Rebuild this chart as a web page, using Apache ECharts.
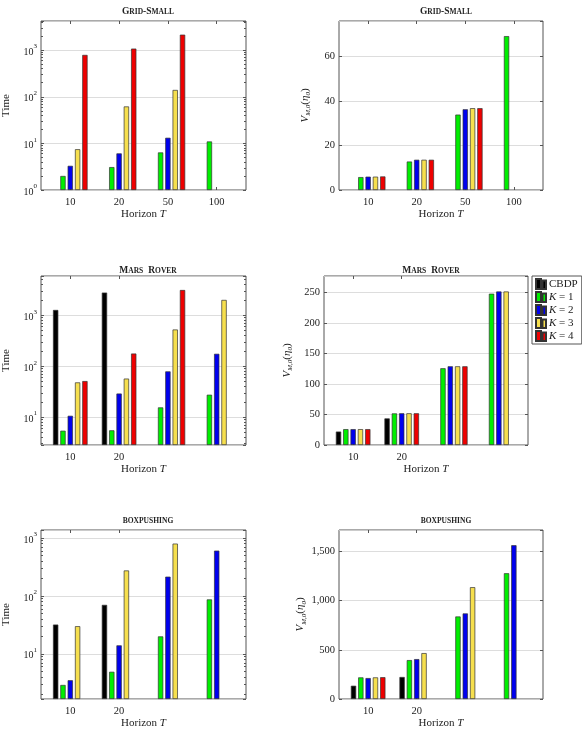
<!DOCTYPE html>
<html>
<head>
<meta charset="utf-8">
<script src="https://cdn.jsdelivr.net/npm/echarts@6/dist/echarts.min.js"></script>
<style>html,body{margin:0;padding:0;background:#fff}#c{width:582px;height:739px}</style>
</head>
<body>
<div id="c"></div>
<script>
// ---------------- data ----------------
const seriesNames = ['CBDP', 'K = 1', 'K = 2', 'K = 3', 'K = 4'];
const gridLabels = ['10', '20', '50', '100'];
const marsLabels = ['10', '20', '', ''];
const boxLabels = ['10', '20', '', ''];

// rows: CBDP, K=1, K=2, K=3, K=4 ; columns: horizons 10, 20, 50, 100
const gridSmallTime = [
  [null, null, null, null],
  [2.0, 3.1, 6.4, 11],
  [3.3, 6.1, 13.2, null],
  [7.5, 62, 140, null],
  [790, 1080, 2150, null]
];
const gridSmallValue = [
  [null, null, null, null],
  [5.8, 12.8, 33.9, 69.2],
  [6.0, 13.6, 36.3, null],
  [6.0, 13.6, 36.8, null],
  [6.1, 13.6, 36.8, null]
];
const marsTime = [
  [1270, 2790, null, null],
  [5.4, 5.5, 15.5, 27.5],
  [10.6, 29, 79, 175],
  [48, 57, 525, 2000],
  [51, 177, 3130, null]
];
const marsValue = [
  [22, 43.6, null, null],
  [26, 51.8, 125.8, 248],
  [26, 52, 129, 251.6],
  [26, 52, 129, 251.6],
  [26, 52, 129, null]
];
const boxTime = [
  [32, 70, null, null],
  [2.9, 4.9, 20, 87],
  [3.5, 14, 215, 605],
  [30, 275, 800, null],
  [null, null, null, null]
];
const boxValue = [
  [135, 224, null, null],
  [220, 396, 840, 1280],
  [213, 406, 871, 1565],
  [220, 467, 1138, null],
  [222, null, null, null]
];

// ---------------- style / layout ----------------
const FONT = 'Liberation Serif';
const colors = ['#000000', '#00ee00', '#0000ee', '#f6df4e', '#ee0000'];
const frameColor = '#555';

const panels = [
  {title: '{b|G}{s|RID}{b|-S}{s|MALL}', rows: gridSmallTime, labels: gridLabels, ticks: [0,1,2,3], log: true, min: 1, max: 4220, yname: 'Time',
   grid: {left: 41, top: 21, width: 205, height: 169}, titleX: 143, titleY: 2, nameGap: 29},
  {title: '{b|G}{s|RID}{b|-S}{s|MALL}', rows: gridSmallValue, labels: gridLabels, ticks: [0,1,2,3], log: false, min: 0, max: 76, interval: 20, yname: 'V',
   grid: {left: 339, top: 21, width: 204, height: 169}, titleX: 441, titleY: 2, nameGap: 27},
  {title: '{b|M}{s|ARS} {b|R}{s|OVER}', rows: marsTime, labels: marsLabels, ticks: [0,1], log: true, min: 2.83, max: 5900, yname: 'Time',
   grid: {left: 41, top: 276, width: 205, height: 169}, titleX: 143, titleY: 257, nameGap: 29},
  {title: '{b|M}{s|ARS} {b|R}{s|OVER}', rows: marsValue, labels: marsLabels, ticks: [0,1], log: false, min: 0, max: 277, interval: 50, yname: 'V',
   grid: {left: 324, top: 276, width: 204, height: 169}, titleX: 426, titleY: 257, nameGap: 30},
  {title: '{s|BOXPUSHING}', rows: boxTime, labels: boxLabels, ticks: [0,1], log: true, min: 1.66, max: 1374, yname: 'Time',
   grid: {left: 41, top: 530, width: 205, height: 169}, titleX: 143, titleY: 512, nameGap: 29},
  {title: '{s|BOXPUSHING}', rows: boxValue, labels: boxLabels, ticks: [0,1], log: false, min: 0, max: 1720, interval: 500, yname: 'V',
   grid: {left: 339, top: 530, width: 204, height: 169}, titleX: 441, titleY: 512, nameGap: 27}
];

function isPow10(v) {
  const l = Math.log10(v);
  return Math.abs(l - Math.round(l)) < 1e-6;
}
function comma(v) {
  return String(v).replace(/\B(?=(\d{3})+(?!\d))/g, ',');
}

const supRich = {
  n: {fontFamily: FONT, fontSize: 10, color: '#222', lineHeight: 14, verticalAlign: 'bottom'},
  sup: {fontFamily: FONT, fontSize: 7, color: '#222', lineHeight: 14, verticalAlign: 'top', padding: [0, 0, 0, 0]}
};
const vNameRich = {
  i: {fontFamily: FONT, fontSize: 11, fontStyle: 'italic', color: '#222', lineHeight: 14},
  sub: {fontFamily: FONT, fontSize: 7, fontStyle: 'italic', color: '#222', lineHeight: 14, verticalAlign: 'bottom', padding: [4, 0, 0, 0]},
  n: {fontFamily: FONT, fontSize: 11, color: '#222', lineHeight: 14}
};
const vName = '{i|V}{sub|M,0}{n|(}{i|η}{sub|0}{n|)}';

const option = {
  animation: false,
  backgroundColor: '#fff',
  title: [],
  grid: [],
  xAxis: [],
  yAxis: [],
  series: [],
  legend: {
    data: seriesNames,
    orient: 'vertical',
    left: 532,
    top: 276,
    padding: [2, 4, 2, 3],
    itemGap: 1,
    itemWidth: 10,
    itemHeight: 10,
    borderColor: frameColor,
    borderWidth: 1,
    icon: 'path://M0,0h5v10h-5z M6.5,1.5h3.5v8.5h-3.5z',
    formatter: function (name) {
      if (name === 'CBDP') return '{n|CBDP}';
      return '{i|K} {n|' + name.slice(2) + '}';
    },
    textStyle: {
      fontFamily: FONT, fontSize: 11, color: '#222', padding: [0, 0, 0, -2],
      rich: {
        n: {fontFamily: FONT, fontSize: 11, color: '#222'},
        i: {fontFamily: FONT, fontSize: 11, fontStyle: 'italic', color: '#222'}
      }
    }
  }
};

panels.forEach(function (p, k) {
  option.title.push({
    text: p.title,
    left: p.titleX,
    top: p.titleY,
    textAlign: 'center',
    textStyle: {
      rich: {
        b: {fontFamily: FONT, fontSize: 9.5, color: '#222'},
        s: {fontFamily: FONT, fontSize: 7.5, color: '#222'}
      }
    }
  });
  option.grid.push(Object.assign({show: true, borderColor: frameColor, borderWidth: 1, backgroundColor: 'transparent', containLabel: false}, p.grid));

  // bottom x axis
  option.xAxis.push({
    gridIndex: k, type: 'value', min: -0.6, max: 3.6, position: 'bottom',
    name: 'Horizon {i|T}', nameLocation: 'middle', nameGap: 19,
    nameTextStyle: {fontFamily: FONT, fontSize: 11, color: '#222',
      rich: {i: {fontFamily: FONT, fontSize: 11, fontStyle: 'italic', color: '#222'}}},
    axisLine: {show: false, onZero: false},
    splitLine: {show: false},
    axisTick: {show: true, inside: true, length: 3, customValues: p.ticks, lineStyle: {color: frameColor}},
    axisLabel: {show: true, margin: 7, customValues: p.ticks, fontFamily: FONT, fontSize: 10.5, color: '#222',
      formatter: function (v) { return p.labels[Math.round(v)] || ''; }}
  });
  // top x axis (mirrored ticks)
  option.xAxis.push({
    gridIndex: k, type: 'value', min: -0.6, max: 3.6, position: 'top',
    axisLine: {show: false, onZero: false}, splitLine: {show: false}, axisLabel: {show: false},
    axisTick: {show: true, inside: true, length: 3, customValues: p.ticks, lineStyle: {color: frameColor}}
  });

  const yBase = {
    gridIndex: k,
    type: p.log ? 'log' : 'value',
    min: p.min, max: p.max,
    axisLine: {show: false, onZero: false},
    axisTick: {show: true, inside: true, length: 3, lineStyle: {color: frameColor}}
  };
  if (p.log) {
    yBase.logBase = 10;
    yBase.startValue = p.min;
    yBase.minorTick = {show: true, splitNumber: 9, length: 2, lineStyle: {color: frameColor}};
  } else {
    yBase.interval = p.interval;
  }
  const yLeft = Object.assign({}, yBase, {
    position: 'left',
    splitLine: {show: true, lineStyle: {color: '#d4d4d4', width: 0.8}},
    axisLabel: {
      show: true, margin: 4, fontFamily: FONT, fontSize: 10.5, color: '#222',
      showMinLabel: p.log ? null : true, showMaxLabel: false,
      rich: supRich,
      formatter: p.log
        ? function (v) { return isPow10(v) ? '{n|10}{sup|' + Math.round(Math.log10(v)) + '}' : ''; }
        : function (v) { return comma(v); }
    },
    name: p.yname === 'Time' ? 'Time' : vName,
    nameLocation: 'middle',
    nameGap: p.nameGap,
    nameRotate: 90,
    nameTextStyle: p.yname === 'Time'
      ? {fontFamily: FONT, fontSize: 11, color: '#222'}
      : {fontFamily: FONT, fontSize: 11, color: '#222', rich: vNameRich}
  });
  const yRight = Object.assign({}, yBase, {
    position: 'right',
    splitLine: {show: false},
    axisLabel: {show: false}
  });
  option.yAxis.push(yLeft, yRight);

  p.rows.forEach(function (row, s) {
    const data = [];
    row.forEach(function (v, i) { if (v !== null) data.push([i, v]); });
    option.series.push({
      type: 'bar',
      name: seriesNames[s],
      xAxisIndex: 2 * k,
      yAxisIndex: 2 * k,
      data: data,
      barWidth: 5.3,
      barGap: '38%',
      clip: true,
      itemStyle: {color: colors[s], borderColor: '#333', borderWidth: 0.7},
      emphasis: {disabled: true}
    });
  });
});

const chart = echarts.init(document.getElementById('c'), null, {renderer: 'canvas'});
chart.setOption(option);
</script>
</body>
</html>
